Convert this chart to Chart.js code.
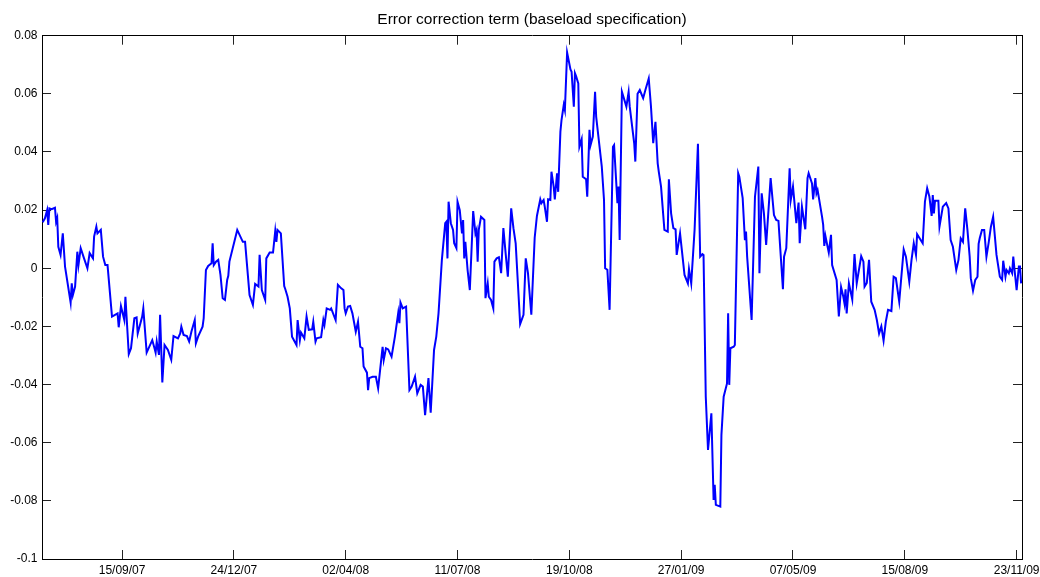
<!DOCTYPE html>
<html lang="en">
  <head>
    <meta charset="utf-8" />
    <title>Error correction term (baseload specification)</title>
    <style>
      html, body { margin: 0; padding: 0; background: #fff; }
      #wrap { width: 1040px; height: 577px; }
    </style>
  </head>
  <body>

<div id="wrap">
  <canvas id="ectChart" width="1040" height="577"></canvas>
</div>

<script src="https://cdn.jsdelivr.net/npm/chart.js@4.4.0/dist/chart.umd.min.js"></script>

<script>

// days counted from 15/09/07 (the first date tick)
const dayOffsets = [
  -71,-69,-67,-66,-65,-63,-60,-59,-58,-57,
  -55,-53,-51,-46,-45,-44,-42,-40,-39,-37,
  -34,-31,-29,-26,-25,-23,-22,-19,-17,-15,
  -13,-9,-4,-3,-1,2,3,6,8,11,
  13,14,18,19,22,27,29,30,31,33,
  34,36,38,41,44,46,50,52,53,55,
  58,60,62,65,66,68,72,73,75,77,
  80,81,82,84,86,88,90,92,94,95,
  96,103,108,110,114,117,119,122,123,125,
  128,129,132,135,137,138,139,142,145,146,
  148,150,152,156,157,159,160,163,165,167,
  170,171,173,174,178,180,181,183,186,187,
  191,193,196,198,199,200,202,204,206,209,
  211,213,215,216,219,220,221,224,227,229,
  233,234,236,238,241,244,247,248,249,251,
  254,257,259,262,264,267,269,271,274,276,
  279,281,283,286,289,290,291,292,294,296,
  297,299,300,302,304,305,306,307,309,311,
  314,316,317,318,319,321,324,325,327,328,
  330,332,333,335,337,339,341,343,345,348,
  350,352,356,359,361,363,366,369,371,374,
  375,377,378,380,381,383,384,386,387,389,
  390,392,393,395,396,398,401,402,404,405,
  406,408,409,411,412,415,416,418,419,421,
  423,424,429,431,432,434,436,439,440,443,
  444,445,447,451,453,454,458,459,461,463,
  466,468,471,473,475,477,479,480,482,485,
  488,489,491,493,495,496,499,503,506,507,
  509,512,515,517,519,520,522,524,527,529,
  530,531,535,536,538,541,542,543,544,547,
  548,551,552,555,557,558,559,563,566,569,
  570,572,574,576,580,583,585,587,591,592,
  594,597,598,600,603,605,606,608,611,613,
  614,617,618,620,621,622,626,627,628,629,
  632,634,635,639,641,643,645,646,647,648,
  650,653,655,657,661,663,664,666,668,670,
  673,675,677,679,681,683,685,688,690,692,
  695,699,701,704,706,708,710,711,716,718,
  720,722,724,725,726,727,730,731,734,737,
  739,741,743,746,748,750,752,754,756,758,
  759,761,763,765,766,767,769,771,773,775,
  777,779,782,785,787,788,790,791,793,794,
  796,797,798,800,802,803,804
]

const ectValues = [
  0.0158,0.0172,0.0200,0.0149,0.0206,0.0203,0.0208,0.0160,0.0173,0.0074,
  0.0046,0.0120,0.0006,-0.0118,-0.0052,-0.0092,-0.0063,0.0057,0.0011,0.0069,
  0.0034,0.0000,0.0052,0.0034,0.0109,0.0143,0.0120,0.0132,0.0040,0.0011,
  0.0011,-0.0166,-0.0155,-0.0203,-0.0130,-0.0178,-0.0098,-0.0295,-0.0275,-0.0172,
  -0.0169,-0.0224,-0.0166,-0.0138,-0.0290,-0.0247,-0.0275,-0.0290,-0.0252,-0.0298,
  -0.0160,-0.0393,-0.0264,-0.0281,-0.0315,-0.0233,-0.0241,-0.0224,-0.0201,-0.0229,
  -0.0233,-0.0252,-0.0218,-0.0178,-0.0258,-0.0235,-0.0201,-0.0172,-0.0006,0.0008,
  0.0017,0.0086,0.0011,0.0023,0.0029,-0.0023,-0.0103,-0.0109,-0.0040,-0.0026,
  0.0023,0.0132,0.0091,0.0091,-0.0092,-0.0126,-0.0054,-0.0063,0.0046,-0.0075,
  -0.0109,0.0034,0.0054,0.0054,0.0129,0.0091,0.0132,0.0120,-0.0061,-0.0072,
  -0.0098,-0.0138,-0.0235,-0.0264,-0.0178,-0.0247,-0.0221,-0.0241,-0.0166,-0.0212,
  -0.0210,-0.0184,-0.0252,-0.0241,-0.0237,-0.0178,-0.0195,-0.0138,-0.0143,-0.0138,
  -0.0178,-0.0057,-0.0069,-0.0075,-0.0138,-0.0155,-0.0132,-0.0130,-0.0155,-0.0218,
  -0.0184,-0.0270,-0.0275,-0.0338,-0.0359,-0.0419,-0.0378,-0.0373,-0.0373,-0.0413,
  -0.0270,-0.0315,-0.0275,-0.0279,-0.0304,-0.0235,-0.0153,-0.0189,-0.0118,-0.0138,
  -0.0132,-0.0419,-0.0407,-0.0373,-0.0430,-0.0401,-0.0407,-0.0505,-0.0378,-0.0497,
  -0.0281,-0.0235,-0.0155,0.0029,0.0155,0.0160,0.0034,0.0229,0.0155,0.0132,
  0.0086,0.0069,0.0229,0.0200,0.0120,0.0166,0.0034,0.0091,-0.0006,-0.0075,
  0.0197,0.0120,0.0132,0.0023,0.0132,0.0177,0.0166,-0.0103,-0.0052,-0.0098,
  -0.0109,-0.0138,0.0023,0.0034,0.0038,-0.0017,0.0138,0.0052,-0.0029,0.0206,
  0.0138,0.0086,-0.0192,-0.0160,0.0034,-0.0017,-0.0160,0.0105,0.0180,0.0237,
  0.0224,0.0235,0.0212,0.0160,0.0237,0.0235,0.0332,0.0281,0.0237,0.0327,
  0.0263,0.0470,0.0510,0.0562,0.0544,0.0742,0.0684,0.0676,0.0556,0.0671,
  0.0661,0.0636,0.0418,0.0444,0.0315,0.0306,0.0246,0.0476,0.0424,0.0453,
  0.0607,0.0521,0.0350,0.0235,0.0000,-0.0005,-0.0143,0.0418,0.0424,0.0224,
  0.0281,0.0097,0.0607,0.0556,0.0607,0.0556,0.0430,0.0367,0.0600,0.0613,
  0.0585,0.0613,0.0653,0.0556,0.0430,0.0504,0.0361,0.0332,0.0281,0.0132,
  0.0126,0.0306,0.0189,0.0138,0.0134,0.0046,0.0120,-0.0023,-0.0052,-0.0003,
  -0.0052,0.0132,0.0428,0.0040,0.0049,0.0046,-0.0442,-0.0625,-0.0499,-0.0797,
  -0.0745,-0.0814,-0.0820,-0.0573,-0.0442,-0.0396,-0.0155,-0.0401,-0.0275,-0.0270,
  -0.0264,0.0327,0.0315,0.0241,0.0097,0.0126,0.0040,-0.0178,0.0246,0.0350,
  -0.0017,0.0258,0.0189,0.0080,0.0310,0.0183,0.0166,0.0163,-0.0072,0.0040,
  0.0069,0.0344,0.0235,0.0281,0.0155,0.0226,0.0086,0.0212,0.0134,0.0310,
  0.0327,0.0292,0.0237,0.0310,0.0258,0.0269,0.0177,0.0149,0.0077,0.0111,
  0.0054,0.0115,0.0011,-0.0040,-0.0166,-0.0065,-0.0098,-0.0120,-0.0072,-0.0155,
  -0.0052,-0.0107,0.0049,-0.0052,0.0042,0.0023,-0.0063,-0.0050,0.0029,-0.0115,
  -0.0143,-0.0178,-0.0224,-0.0200,-0.0249,-0.0184,-0.0143,-0.0147,-0.0029,-0.0034,
  -0.0115,0.0065,0.0040,-0.0046,0.0029,0.0086,0.0046,0.0117,0.0086,0.0229,
  0.0275,0.0246,0.0180,0.0252,0.0189,0.0232,0.0232,0.0143,0.0212,0.0224,
  0.0206,0.0097,0.0074,-0.0006,0.0029,0.0103,0.0091,0.0206,0.0132,0.0040,
  -0.0034,-0.0077,-0.0040,-0.0029,0.0084,0.0103,0.0132,0.0132,0.0040,0.0088,
  0.0143,0.0177,0.0046,-0.0029,-0.0040,0.0026,-0.0029,-0.0006,-0.0017,0.0000,
  -0.0017,0.0040,0.0000,-0.0075,0.0006,0.0006,-0.0052
]

const xTickDays = [0, 100, 200, 300, 400, 500, 600, 700, 800]
const xTickLabels = ['15/09/07', '24/12/07', '02/04/08', '11/07/08', '19/10/08',
                     '27/01/09', '07/05/09', '15/08/09', '23/11/09']

const yTicks = [-0.1, -0.08, -0.06, -0.04, -0.02, 0, 0.02, 0.04, 0.06, 0.08]
const yTickLabels = ['-0.1', '-0.08', '-0.06', '-0.04', '-0.02', '0', '0.02', '0.04', '0.06', '0.08']


window.onload = function () {

  let points = []
  for (let i = 0; i < dayOffsets.length; i++) {
    points.push({ x: dayOffsets[i], y: ectValues[i] })
  }

  const fontFamily = "'Liberation Sans', Arial, sans-serif"

  // matlab style box: inward ticks on all four sides
  function tickGrid() {
    return { drawOnChartArea: false, drawTicks: true, tickLength: -9, color: '#222', lineWidth: 1 }
  }

  const config = {
    type: 'line',
    data: {
      datasets: [
        {
          label: 'Error correction term',
          data: points,
          borderColor: '#0000ff',
          backgroundColor: '#0000ff',
          borderWidth: 2,
          pointRadius: 0,
          tension: 0,
          fill: false
        }
      ]
    },
    options: {
      responsive: false,
      animation: false,
      layout: { padding: 0 },
      plugins: {
        legend: { display: false },
        tooltip: { enabled: false },
        title: {
          display: true,
          text: 'Error correction term (baseload specification)',
          fullSize: false,
          color: '#000',
          font: { family: fontFamily, size: 15.5, weight: 'normal' },
          padding: { top: 10.7, bottom: 6.4 }
        }
      },
      scales: {
        x: {
          type: 'linear',
          position: 'bottom',
          min: -71.6,
          max: 804.8,
          afterBuildTicks: function (s) { s.ticks = xTickDays.map(v => ({ value: v })) },
          afterFit: function (s) { s.height = 18; s.paddingLeft = 0; s.paddingRight = 0 },
          ticks: {
            autoSkip: false,
            maxRotation: 0,
            padding: 13,
            color: '#000',
            font: { family: fontFamily, size: 12 },
            callback: (v, i) => xTickLabels[i]
          },
          grid: tickGrid(),
          border: { display: true, color: '#000', width: 1 }
        },
        xTop: {
          type: 'linear',
          position: 'top',
          min: -71.6,
          max: 804.8,
          afterBuildTicks: function (s) { s.ticks = xTickDays.map(v => ({ value: v })) },
          afterFit: function (s) { s.height = 0; s.paddingLeft = 0; s.paddingRight = 0 },
          ticks: { display: false },
          grid: tickGrid(),
          border: { display: true, color: '#000', width: 1 }
        },
        y: {
          type: 'linear',
          position: 'left',
          min: -0.1,
          max: 0.08,
          afterBuildTicks: function (s) { s.ticks = yTicks.map(v => ({ value: v })) },
          afterFit: function (s) { s.width = 42; s.paddingTop = 0; s.paddingBottom = 0 },
          ticks: {
            padding: 13.5,
            color: '#000',
            font: { family: fontFamily, size: 12 },
            callback: (v, i) => yTickLabels[i]
          },
          grid: tickGrid(),
          border: { display: true, color: '#000', width: 1 }
        },
        yRight: {
          type: 'linear',
          position: 'right',
          min: -0.1,
          max: 0.08,
          afterBuildTicks: function (s) { s.ticks = yTicks.map(v => ({ value: v })) },
          afterFit: function (s) { s.width = 18; s.paddingTop = 0; s.paddingBottom = 0 },
          ticks: { display: false },
          grid: tickGrid(),
          border: { display: true, color: '#000', width: 1 }
        }
      }
    }
  }

  const ctx = document.getElementById('ectChart').getContext('2d')
  window.ectChart = new Chart(ctx, config)
}
</script>

  </body>
</html>
